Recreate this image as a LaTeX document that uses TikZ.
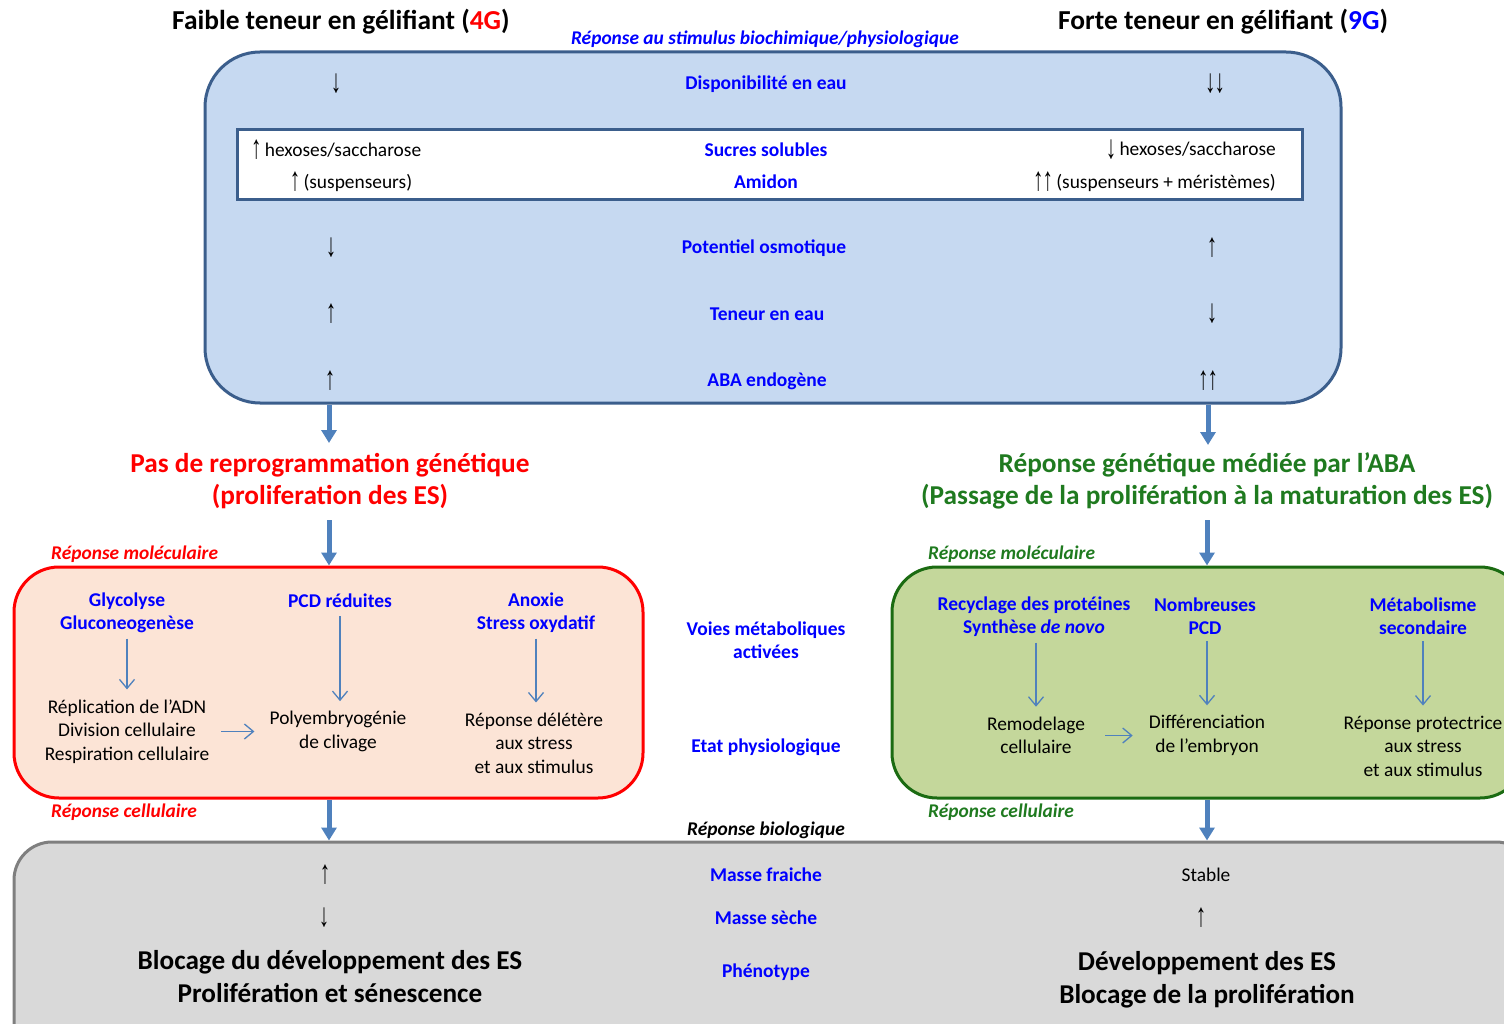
\documentclass[tikz,border=0pt]{standalone}
\usepackage{fontspec}
\usepackage{graphicx}
\setmainfont{Carlito}
\newfontfamily\arr{Liberation Sans}
\usetikzlibrary{arrows.meta}
\definecolor{bfill}{HTML}{C6D9F1}
\definecolor{bdraw}{HTML}{3B5E8C}
\definecolor{pfill}{HTML}{FCE4D6}
\definecolor{gfill}{HTML}{C4D79B}
\definecolor{gdraw}{HTML}{1B6B12}
\definecolor{gtext}{HTML}{1F7A1F}
\definecolor{gyfill}{HTML}{D9D9D9}
\definecolor{gydraw}{HTML}{7F7F7F}
\definecolor{arrblue}{HTML}{4F81BD}
\definecolor{tblue}{HTML}{0000FF}
\definecolor{tred}{HTML}{FF0000}
\newcommand{\ag}{\arr\fontsize{19}{20}\selectfont}
\newcommand{\au}{\raisebox{-2pt}{\scalebox{1.1}[1.75]{\ag ↑}}}
\newcommand{\ad}{\raisebox{-3pt}{\scalebox{1.1}[1.75]{\ag ↓}}}
\tikzset{
  lbl/.style={font=\fontsize{19.5}{23}\selectfont\bfseries, text=tblue, align=center, inner sep=0pt},
  txt/.style={font=\fontsize{19.4}{23.5}\selectfont, text=black, align=center, inner sep=0pt},
  ar/.style={inner sep=0pt},
  title/.style={font=\fontsize{27.4}{30}\selectfont\bfseries, inner sep=0pt},
  head/.style={font=\fontsize{27.3}{32}\selectfont\bfseries, align=center, inner sep=0pt},
  itl/.style={font=\fontsize{19.4}{22}\selectfont\bfseries\itshape, inner sep=0pt},
  big/.style={font=\fontsize{27.2}{33}\selectfont\bfseries, align=center, inner sep=0pt},
  fat/.style={arrblue, line width=5pt, -{Triangle[width=15pt,length=13pt]}},
  thin/.style={arrblue, line width=1.3pt, -{Straight Barb[length=9pt,width=15pt]}},
}
\begin{document}
\begin{tikzpicture}[x=1pt,y=-1pt]
\useasboundingbox (0,0) rectangle (1504,1024);
\begin{scope}
\clip (0,0) rectangle (1504,1024);
% boxes
\node[draw=bdraw, line width=3pt, fill=bfill, rounded corners=55pt, minimum width=1136pt, minimum height=351pt, inner sep=0pt] (blue) at (773,227.5) {};
\node[draw=bdraw, line width=3pt, fill=white, minimum width=1065pt, minimum height=70pt, inner sep=0pt] (inner) at (769.5,165) {};
\node[draw=tred, line width=3pt, fill=pfill, rounded corners=45pt, minimum width=629pt, minimum height=231pt, inner sep=0pt] (red) at (328.5,682.5) {};
\node[draw=gdraw, line width=3pt, fill=gfill, rounded corners=45pt, minimum width=633pt, minimum height=231pt, inner sep=0pt] (green) at (1208.5,682.5) {};
\node[draw=gydraw, line width=3pt, fill=gyfill, rounded corners=38pt, minimum width=1520pt, minimum height=230pt, inner sep=0pt] (grey) at (774,957) {};
\end{scope}
% titles
\node[title, anchor=west] (t1) at (172,22) {Faible teneur en gélifiant (\textcolor{tred}{4G})};
\node[title, anchor=west] (t2) at (1058,22) {Forte teneur en gélifiant (\textcolor{tblue}{9G})};
\node[itl, text=tblue] (sub) at (765,39) {Réponse au stimulus biochimique/physiologique};
% blue box rows
\node[lbl] (dispo) at (766,84) {Disponibilité en eau};
\node[ar] (d1) at (336,84) {\ad};
\node[ar] (d2) at (1215,84) {\ad\kern-1pt\ad};
\node[lbl] (sucres) at (766,150) {Sucres solubles};
\node[txt, anchor=west] (s1) at (251,150) {\au\,hexoses/saccharose};
\node[txt, anchor=east] (s2) at (1276,150) {\ad\,hexoses/saccharose};
\node[lbl] (amidon) at (766,182) {Amidon};
\node[txt] (a1) at (351,182) {\au\,(suspenseurs)};
\node[txt, anchor=east] (a2) at (1276,182) {\au\kern-1pt\au\,(suspenseurs + méristèmes)};
\node[lbl] (pot) at (764,248) {Potentiel osmotique};
\node[ar] (p1) at (331,248) {\ad};
\node[ar] (p2) at (1212,248) {\au};
\node[lbl] (ten) at (767,314) {Teneur en eau};
\node[ar] (e1) at (331,314) {\au};
\node[ar] (e2) at (1212,314) {\ad};
\node[lbl] (aba) at (767,381) {ABA endogène};
\node[ar] (b1) at (330,381) {\au};
\node[ar] (b2) at (1208,381) {\au\kern-1pt\au};
% headings
\node[head, text=tred] (h1) at (330,481) {Pas de reprogrammation génétique\\(proliferation des ES)};
\node[head, text=gtext] (h2) at (1207,481) {Réponse génétique médiée par l’ABA\\(Passage de la prolifération à la maturation des ES)};
\coordinate (h1t) at (329,443);
\coordinate (h2t) at (1208,445);
\coordinate (h1b) at (329,520);
\coordinate (h2b) at (1207,520);
\draw[fat] (blue.south -| h1t) -- (h1t);
\draw[fat] (blue.south -| h2t) -- (h2t);
\draw[fat] (h1b) -- (red.north -| h1b);
\draw[fat] (h2b) -- (green.north -| h2b);
% italic labels
\node[itl, text=tred, anchor=west] (rm1) at (51,554) {Réponse moléculaire};
\node[itl, text=gtext, anchor=west] (rm2) at (928,554) {Réponse moléculaire};
\node[itl, text=tred, anchor=west] (rc1) at (51,812) {Réponse cellulaire};
\node[itl, text=gtext, anchor=west] (rc2) at (928,812) {Réponse cellulaire};
\node[itl, text=black] (rb) at (766,830) {Réponse biologique};
% middle labels
\node[lbl] (voies) at (766,640.5) {Voies métaboliques\\activées};
\node[lbl] (etat) at (766,747) {Etat physiologique};
% red box content
\node[lbl] (glyc) at (127,612.5) {Glycolyse\\Gluconeogenèse};
\node[txt] (repl) at (127,731.5) {Réplication de l’ADN\\Division cellulaire\\Respiration cellulaire};
\node[lbl] (pcd) at (340,601) {PCD réduites};
\node[txt] (poly) at (338,731.5) {Polyembryogénie\\de clivage};
\node[lbl] (anox) at (536,612.5) {Anoxie\\Stress oxydatif};
\node[txt] (delet) at (534,743) {Réponse délétère\\aux stress\\et aux stimulus};
\draw[thin, shorten <=6pt, shorten >=10pt] (glyc.south) -- (glyc.south |- repl.north);
\draw[thin, shorten <=8pt, shorten >=10pt] (pcd.south) -- (pcd.south |- poly.north);
\draw[thin, shorten <=6pt, shorten >=10pt] (anox.south) -- (anox.south |- delet.north);
\draw[thin, shorten <=12pt, shorten >=15pt] (repl.east |- poly) -- (poly.west);
% green box content
\node[lbl] (recy) at (1034,616.5) {Recyclage des protéines\\Synthèse \textit{de novo}};
\node[lbl] (nomb) at (1205,616.5) {Nombreuses\\PCD};
\node[lbl] (meta) at (1423,616.5) {Métabolisme\\secondaire};
\node[txt] (remo) at (1036,735.5) {Remodelage\\cellulaire};
\node[txt] (diff) at (1207,735.5) {Différenciation\\de l’embryon};
\node[txt] (prot) at (1423,746) {Réponse protectrice\\aux stress\\et aux stimulus};
\draw[thin, shorten <=6pt, shorten >=10pt] (recy.south -| remo) -- (remo.north);
\draw[thin, shorten <=6pt, shorten >=10pt] (nomb.south -| diff) -- (diff.north);
\draw[thin, shorten <=6pt, shorten >=10pt] (meta.south) -- (meta.south |- prot.north);
\draw[thin, shorten <=20pt, shorten >=16pt] (remo.east) -- (diff.west);
% arrows to grey box
\draw[fat] (red.south -| h1b) -- (grey.north -| h1b);
\draw[fat] (green.south -| h2b) -- (grey.north -| h2b);
% grey box content
\node[ar] (m1) at (325,875) {\au};
\node[lbl] (mf) at (766,875) {Masse fraiche};
\node[txt] (m2) at (1206,875) {Stable};
\node[ar] (ms1) at (324,918) {\ad};
\node[lbl] (ms) at (766,918) {Masse sèche};
\node[ar] (ms2) at (1201,918) {\au};
\node[lbl] (phe) at (766,972) {Phénotype};
\node[big] (bl) at (330,976.5) {Blocage du développement des ES\\Prolifération et sénescence};
\node[big] (dv) at (1207,979.5) {Développement des ES\\Blocage de la prolifération};
\end{tikzpicture}
\end{document}
